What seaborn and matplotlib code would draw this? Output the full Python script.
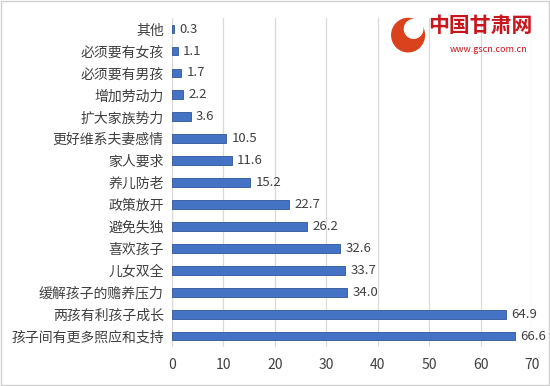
import matplotlib
matplotlib.use("Agg")
import matplotlib.pyplot as plt
import matplotlib.patches as mpatches
import pandas as pd
import seaborn as sns

# 生育二孩的原因（%）
reasons = ["其他", "必须要有女孩", "必须要有男孩", "增加劳动力", "扩大家族势力",
           "更好维系夫妻感情", "家人要求", "养儿防老", "政策放开", "避免失独",
           "喜欢孩子", "儿女双全", "缓解孩子的赡养压力", "两孩有利孩子成长",
           "孩子间有更多照应和支持"]
percent = [0.3, 1.1, 1.7, 2.2, 3.6, 10.5, 11.6, 15.2, 22.7, 26.2,
           32.6, 33.7, 34.0, 64.9, 66.6]
x_ticks = [0, 10, 20, 30, 40, 50, 60, 70]

sns.set_style("white")
plt.rcParams['font.family'] = ['Noto Sans CJK SC', 'DejaVu Sans']

df = pd.DataFrame({"原因": reasons, "比例": percent})

fig = plt.figure(figsize=(5.5, 3.86), dpi=100)
ax = fig.add_axes([0.3127, 0.101, 0.655, 0.852])

sns.barplot(data=df, x="比例", y="原因", orient="h", color="#4472C4",
            width=0.4, edgecolor="#2f5597", linewidth=0.6, saturation=1, ax=ax)

ax.bar_label(ax.containers[0], fmt="%.1f", padding=4, fontsize=9.5, color="#404040")

ax.set_xlim(0, 70)
ax.set_xticks(x_ticks)
ax.set_xlabel("")
ax.set_ylabel("")
ax.grid(axis="x", color="#d9d9d9", linewidth=0.9)
ax.set_axisbelow(True)
for s in ax.spines.values():
    s.set_visible(False)
ax.tick_params(axis="both", length=0, labelsize=10, colors="#404040", pad=8)
ax.tick_params(axis="y", pad=6)

# 外框
fig.patches.append(mpatches.Rectangle((0.002, 0.003), 0.996, 0.994, transform=fig.transFigure,
                                      fill=False, edgecolor="#d0d0d0", linewidth=1))

# 网站标识
fig.patches.append(mpatches.Ellipse((0.742, 0.909), 0.062, 0.09, transform=fig.transFigure,
                                    facecolor="#d9421c", edgecolor="none"))
fig.patches.append(mpatches.Ellipse((0.752, 0.925), 0.036, 0.052, transform=fig.transFigure,
                                    facecolor="white", edgecolor="none"))
fig.text(0.778, 0.935, "中国甘肃网", fontsize=15, color="#c8161d", fontweight="bold",
         va="center", ha="left")
fig.text(0.888, 0.872, "www.gscn.com.cn", fontsize=6.5, color="#c8161d",
         va="center", ha="center")

fig.savefig("out.png", dpi=100)
